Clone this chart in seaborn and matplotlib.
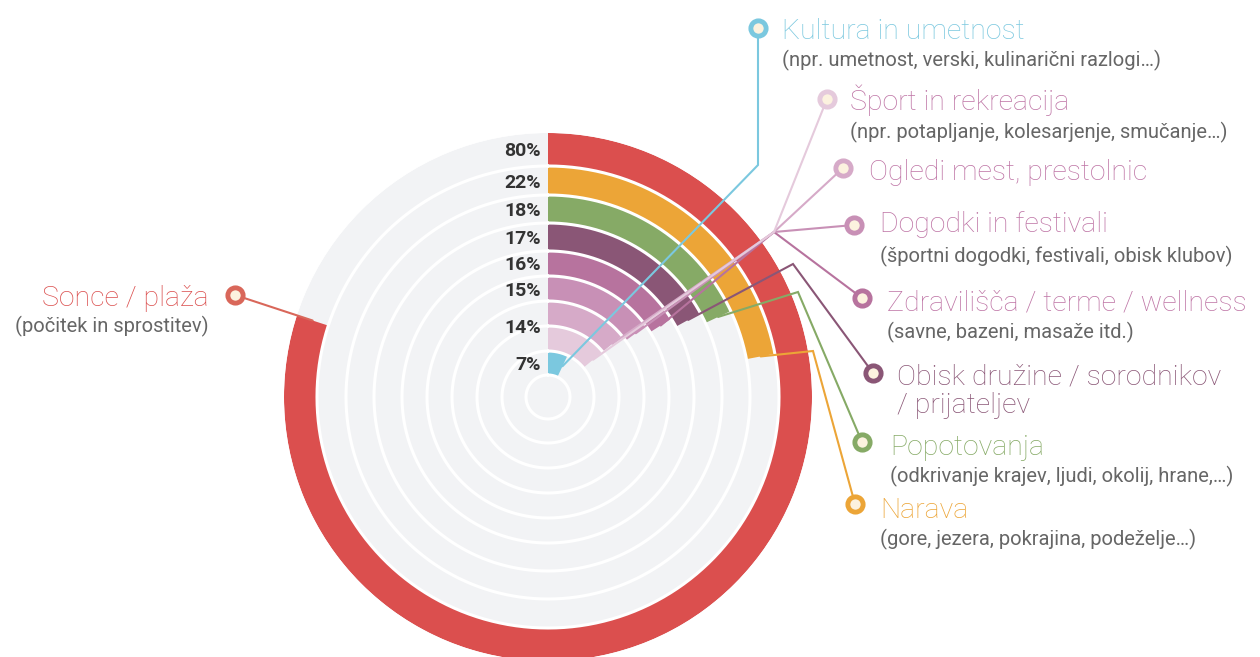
import numpy as np
import matplotlib
matplotlib.use("Agg")
import matplotlib.pyplot as plt
import seaborn as sns

# Data (outer ring to inner ring)
categories = ["Sonce / plaža", "Narava", "Popotovanja",
              "Obisk družine / sorodnikov\n/ prijateljev",
              "Zdravilišča / terme / wellness", "Dogodki in festivali",
              "Ogledi mest, prestolnic", "Šport in rekreacija",
              "Kultura in umetnost"]
subtitles = ["(počitek in sprostitev)",
             "(gore, jezera, pokrajina, podeželje…)",
             "(odkrivanje krajev, ljudi, okolij, hrane,…)",
             "",
             "(savne, bazeni, masaže itd.)",
             "(športni dogodki, festivali, obisk klubov)",
             "",
             "(npr. potapljanje, kolesarjenje, smučanje…)",
             "(npr. umetnost, verski, kulinarični razlogi…)"]
values = [80, 22, 18, 17, 16, 15, 14, 14, 7]

ring_colors = ["#DB4F4E", "#ECA537", "#86AA66", "#8A5676", "#B7739E",
               "#C890B6", "#D6AAC8", "#E5CADC", "#7BC8DF"]
text_colors = ["#DB4F4E", "#ECA537", "#86AA66", "#8A5676", "#BE74A5",
               "#BE74A5", "#BE74A5", "#BE74A5", "#7BC8DF"]
marker_colors = ["#D9675A", "#ECA537", "#86AA66", "#8A5676", "#B7739E",
                 "#C890B6", "#D6AAC8", "#E5CADC", "#7BC8DF"]

# ring edges in pixels (outer -> inner)
ring_edges = [264, 231, 202, 174, 146, 121, 96, 71, 46, 22]

sns.set_theme(style="white")
plt.rcParams['font.family'] = ['Roboto', 'DejaVu Sans']
palette = sns.color_palette(ring_colors)

W, H = 1260, 657
cx, cy = 548, 397
R = ring_edges[0]
fig = plt.figure(figsize=(12.6, 6.57), dpi=100)

pax = fig.add_axes([(cx - R) / W, (H - cy - R) / H, 2 * R / W, 2 * R / H],
                   projection='polar')
pax.set_theta_zero_location('N')
pax.set_theta_direction(-1)
pax.set_ylim(0, R)
pax.axis('off')

# gray background tracks
pax.bar(0, R, width=2 * np.pi, bottom=0, align='edge', color='#F2F3F5', lw=0)
th = np.linspace(0, 2 * np.pi, 721)
for r in ring_edges[1:]:
    pax.plot(th, [r] * len(th), color='white', lw=2.2)

# radial bars
for i, v in enumerate(values):
    outer, inner = ring_edges[i], ring_edges[i + 1]
    pax.bar(0, outer - inner, width=2 * np.pi * v / 100, bottom=inner,
            align='edge', color=palette[i], lw=0)

# overlay axes in pixel coords
oax = fig.add_axes([0, 0, 1, 1])
oax.set_xlim(0, W)
oax.set_ylim(H, 0)
oax.axis('off')
oax.set_zorder(3)


def to_px(theta, r):
    d = pax.transData.transform((theta, r))
    return oax.transData.inverted().transform(d)


# percent labels (equal neighbours share one label)
i = 0
while i < len(values):
    j = i
    while j + 1 < len(values) and values[j + 1] == values[i]:
        j += 1
    r_mid = (ring_edges[i] + ring_edges[j + 1]) / 2
    x, y = to_px(0, r_mid)
    oax.text(x - 7, y + 7, f"{values[i]}%", ha='right', va='baseline',
             fontsize=14, fontweight='bold', color='#333333')
    i = j + 1

# label layout: marker, elbow, text x, title baseline (last line), subtitle baseline, ha
hub = (774, 232)
layout = [
    ((235, 295), None, 209, 306, 332, 'right'),
    ((855, 504), (813, 351), 880, 518, 545, 'left'),
    ((862, 442), (798, 292), 890, 455, 482, 'left'),
    ((873, 373), (793, 264), 897, 413, None, 'left'),
    ((862, 298), hub, 887, 310, 338, 'left'),
    ((854, 225), hub, 880, 232, 262, 'left'),
    ((843, 168), hub, 869, 180, None, 'left'),
    ((827, 99), hub, 850, 110, 138, 'left'),
    ((758, 28), (758, 165), 782, 39, 66, 'left'),
]

for i, v in enumerate(values):
    (mx, my), elbow, tx, ty, sy, ha = layout[i]
    r_mid = (ring_edges[i] + ring_edges[i + 1]) / 2
    ex, ey = to_px(2 * np.pi * v / 100, r_mid)
    xs, ys = [mx], [my]
    if elbow is not None:
        xs.append(elbow[0]); ys.append(elbow[1])
    xs.append(ex); ys.append(ey)
    oax.plot(xs, ys, color=marker_colors[i], lw=1.5, solid_joinstyle='miter', zorder=2)
    oax.plot(mx, my, 'o', ms=11, mfc='#FCF2DF', mec=marker_colors[i], mew=3.5, zorder=3)
    oax.text(tx, ty, categories[i], ha=ha, va='baseline', fontsize=20.5,
             fontweight='light', color=text_colors[i], linespacing=1.05)
    if subtitles[i]:
        oax.text(tx, sy, subtitles[i], ha=ha, va='baseline', fontsize=14.5,
                 color='#666666')

fig.savefig("out.png", dpi=100)
